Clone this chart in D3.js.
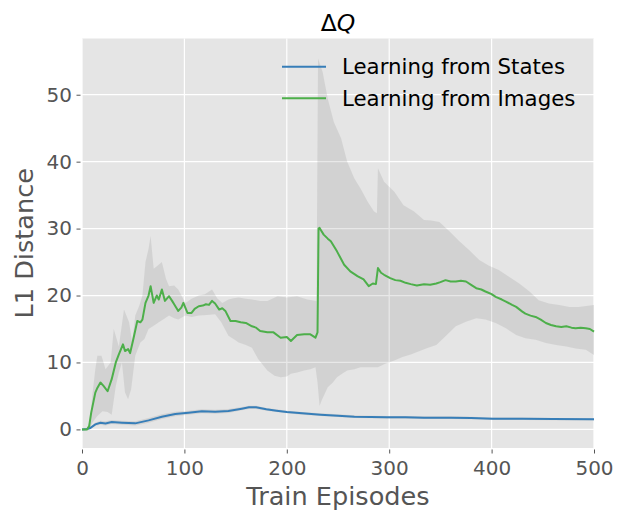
<!DOCTYPE html>
<html>
<head>
<meta charset="utf-8">
<script src="https://cdn.jsdelivr.net/npm/d3@7"></script>
<style>
  body { margin: 0; background: #fff; }
  svg { display: block; font-family: "DejaVu Sans", sans-serif; }
</style>
</head>
<body>
<div id="chart"></div>
<script>
// Learning from Images: mean curve and its shaded band, [episode, value]
const imagesMean = [[0,0],[5,0],[7,0.5],[9,2.5],[11,4],[13,5.5],[15,6.2],[18,7],[21,6.5],[25,5.7],[29,7.5],[33,10],[36,11.2],[40,12.7],[42,11.7],[45,12],[47,11.4],[50,13.4],[54,16.2],[57,16],[59,16.4],[62,18.9],[65,20],[67,21.4],[70,18.9],[73,20],[75,19.4],[78,20.9],[81,19.2],[85,19.9],[88,19.2],[90,18.7],[94,17.7],[97,18.2],[99,18.9],[103,17.4],[107,17.4],[110,18],[114,18.4],[118,18.5],[121,18.7],[124,18.6],[127,19.2],[130,18.8],[134,17.9],[137,18.1],[140,17.7],[145,16.2],[150,16.2],[155,16],[160,15.9],[166,15.4],[170,15.2],[174,14.7],[181,14.5],[187,14.5],[194,13.7],[200,13.8],[204,13.2],[210,14.1],[217,14.2],[223,14.2],[228,13.7],[230,14.5],[231,30],[232,30.1],[236,29.1],[240,28.5],[243,28.1],[249,26.6],[256,24.6],[262,23.6],[269,22.9],[275,22.4],[280,21.4],[284,21.8],[287,21.7],[289,24.1],[292,23.4],[295,23.1],[301,22.6],[306,22.3],[311,22.2],[316,21.9],[321,21.7],[327,21.5],[334,21.7],[340,21.6],[346,21.8],[350,22],[355,22.3],[360,22.1],[365,22.1],[370,22.2],[375,22.1],[380,21.6],[385,21.1],[390,20.9],[394,20.6],[400,20.2],[404,19.8],[410,19.4],[414,19.1],[420,18.6],[424,18.3],[430,17.6],[433,17.3],[438,17],[443,16.8],[448,16.4],[453,15.9],[458,15.6],[463,15.4],[468,15.3],[473,15.4],[478,15.2],[482,15.1],[487,15.2],[492,15.1],[496,15],[500,14.6]];

const imagesHi = [[0,0],[5,0],[8,1.5],[10,5],[13,9],[15,11],[19,11],[23,9],[28,10],[31,15],[36,12.4],[41,17.9],[46,16],[49,13],[52,17],[56,18.5],[59,20],[62,25],[65,27],[67,28.9],[70,24],[74,24.5],[78,25],[82,22.5],[85,21.4],[90,21.5],[94,20.9],[101,18.9],[107,19.5],[114,20],[120,20.2],[127,20.9],[132,19.6],[137,18.9],[143,19.4],[148,19.6],[153,19.7],[160,19.5],[166,19.4],[174,19.2],[181,19.2],[191,19.9],[200,19.7],[210,19.9],[220,19.4],[229,19.2],[230.5,55.4],[235,53.4],[240,49.4],[246,45.9],[253,43.5],[259,40],[266,37.5],[272,36],[279,34],[285,32.6],[288,32.3],[289,39],[295,37],[305,35.5],[314,33.5],[324,32.6],[334,31.3],[341,31.2],[349,31],[358,29.7],[368,28.2],[378,26.8],[388,25.3],[397,24.5],[407,23.8],[417,22.8],[427,21.8],[437,20.6],[446,19.3],[456,18.8],[466,18.6],[476,18.3],[485,18.3],[500,18.6]];

const imagesLo = [[0,0],[5,0],[8,0.3],[10,1],[15,2],[20,2.7],[25,2.6],[29,2.2],[33,6.5],[36,8.5],[39,10],[42,5.5],[45,4.5],[48,6],[52,11],[57,13],[61,13.5],[65,15],[70,15.5],[75,16],[80,16.5],[85,17],[90,16.6],[94,16.4],[101,17],[107,16.8],[114,17],[122,17.1],[130,17.2],[136,16],[143,14],[148,13.5],[153,13],[160,12.6],[166,12.2],[172,10.5],[181,8.8],[188,8],[194,7.8],[200,7.9],[204,8.3],[210,8.5],[217,8.8],[223,9],[228,9.3],[230,7],[232,3.5],[234,4.3],[240,6.3],[245,7],[249,7.8],[254,8.3],[259,8.8],[266,9],[272,9.3],[280,9.3],[289,9.3],[296,9.8],[305,10.3],[313,10.8],[321,11.2],[328,11.6],[336,12.1],[346,12.6],[355,13.9],[365,15.4],[375,16.1],[385,16.6],[394,16.4],[404,15.9],[414,15.1],[424,14.1],[433,13.6],[443,13.4],[453,12.9],[463,12.6],[473,12.4],[482,12.1],[492,11.9],[500,11.1]];

// Learning from States
const statesEp   = [0, 5, 8, 13, 18, 23, 29, 39, 52, 65, 78, 91, 104, 117, 130, 143, 156, 163, 170, 180, 190, 200, 215, 233, 250, 266, 282, 298, 316, 334, 360, 380, 401, 430, 460, 500];
const statesMean = [0, 0.05, 0.2, 0.75, 1.0, 0.9, 1.1, 1.0, 0.9, 1.35, 1.9, 2.3, 2.5, 2.7, 2.65, 2.75, 3.1, 3.3, 3.3, 3.0, 2.8, 2.6, 2.4, 2.2, 2.05, 1.9, 1.85, 1.8, 1.8, 1.75, 1.75, 1.7, 1.6, 1.6, 1.55, 1.5];
const statesLo   = [0, 0, 0.05, 0.5, 0.7, 0.6, 0.8, 0.7, 0.6, 1.0, 1.55, 1.95, 2.2, 2.4, 2.35, 2.45, 2.85, 3.05, 3.05, 2.8, 2.6, 2.4, 2.2, 2.0, 1.85, 1.7, 1.65, 1.6, 1.6, 1.55, 1.55, 1.5, 1.42, 1.42, 1.38, 1.33];
const statesHi   = [0, 0.1, 0.35, 1.0, 1.3, 1.2, 1.4, 1.3, 1.2, 1.7, 2.25, 2.65, 2.8, 3.0, 2.95, 3.05, 3.35, 3.55, 3.55, 3.2, 3.0, 2.8, 2.6, 2.4, 2.25, 2.1, 2.05, 2.0, 2.0, 1.95, 1.95, 1.9, 1.78, 1.78, 1.72, 1.67];

const xTicks = [0, 100, 200, 300, 400, 500];
const yTicks = [0, 10, 20, 30, 40, 50];
const legendLabels = ["Learning from States", "Learning from Images"];
const colors = ["#377eb8", "#4daf4a"];

const W = 626, H = 514;
const margin = { top: 38.5, right: 32, bottom: 66, left: 82 };
const width = W - margin.left - margin.right;
const height = H - margin.top - margin.bottom;

const svg = d3.select("#chart").append("svg")
    .attr("width", W)
    .attr("height", H);

const g = svg.append("g")
    .attr("transform", `translate(${margin.left},${margin.top})`);

const x = d3.scaleLinear().domain([0, 500]).range([0, width]);
const y = d3.scaleLinear().domain([-2.78, 58.4]).range([height, 0]);

// background + grid
g.append("rect")
    .attr("width", width)
    .attr("height", height)
    .attr("fill", "#e5e5e5");

g.append("g")
    .selectAll("line")
    .data(xTicks)
    .enter().append("line")
    .attr("x1", d => x(d)).attr("x2", d => x(d))
    .attr("y1", 0).attr("y2", height)
    .attr("stroke", "#fff").attr("stroke-width", 1.2);

g.append("g")
    .selectAll("line")
    .data(yTicks)
    .enter().append("line")
    .attr("x1", 0).attr("x2", width)
    .attr("y1", d => y(d)).attr("y2", d => y(d))
    .attr("stroke", "#fff").attr("stroke-width", 1.2);

// shaded bands
const edge = d3.line().x(d => x(d[0])).y(d => y(d[1]));
const bandPath = (hi, lo) => edge(hi) + edge(lo.slice().reverse()).replace(/^M/, "L") + "Z";

g.append("path")
    .attr("d", bandPath(imagesHi, imagesLo))
    .attr("fill", "#808080")
    .attr("fill-opacity", 0.18);

const statesRows = statesEp.map((e, i) => ({ e, m: statesMean[i], lo: statesLo[i], hi: statesHi[i] }));

g.append("path")
    .datum(statesRows)
    .attr("fill", "#808080")
    .attr("fill-opacity", 0.18)
    .attr("d", d3.area().x(d => x(d.e)).y0(d => y(d.lo)).y1(d => y(d.hi)));

// lines
g.append("path")
    .datum(statesRows)
    .attr("fill", "none")
    .attr("stroke", colors[0])
    .attr("stroke-width", 2)
    .attr("d", d3.line().x(d => x(d.e)).y(d => y(d.m)));

g.append("path")
    .datum(imagesMean)
    .attr("fill", "none")
    .attr("stroke", colors[1])
    .attr("stroke-width", 2)
    .attr("stroke-linejoin", "round")
    .attr("d", edge);

// axes
const xAxis = g.append("g")
    .attr("transform", `translate(0,${height})`)
    .call(d3.axisBottom(x).tickValues(xTicks).tickSize(4).tickPadding(9));
xAxis.select(".domain").remove();

const yAxis = g.append("g")
    .call(d3.axisLeft(y).tickValues(yTicks).tickSize(4).tickPadding(6));
yAxis.select(".domain").remove();

[xAxis, yAxis].forEach(a => {
    a.selectAll(".tick line").attr("stroke", "#555").attr("stroke-width", 1)
        .attr("transform", a === yAxis ? "translate(-1.5,0)" : "translate(0,1.5)");
    a.selectAll(".tick text")
        .attr("fill", "#555")
        .style("font-size", "20px")
        .style("font-family", "DejaVu Sans, sans-serif");
});

// labels
svg.append("text")
    .attr("x", margin.left + width / 2)
    .attr("y", 505)
    .attr("text-anchor", "middle")
    .attr("fill", "#555")
    .style("font-size", "25.6px")
    .text("Train Episodes");

svg.append("text")
    .attr("transform", `translate(33,${margin.top + height / 2}) rotate(-90)`)
    .attr("text-anchor", "middle")
    .attr("fill", "#555")
    .style("font-size", "25.6px")
    .text("L1 Distance");

const title = svg.append("text")
    .attr("x", margin.left + width / 2)
    .attr("y", 30.5)
    .attr("text-anchor", "middle")
    .attr("fill", "#000")
    .style("font-size", "23.5px");
title.append("tspan").text("Δ");
title.append("tspan").style("font-style", "italic").text("Q");

// legend
const legend = svg.selectAll(".legend")
    .data(legendLabels)
    .enter().append("g")
    .attr("class", "legend")
    .attr("transform", (d, i) => `translate(282,${66.7 + i * 31.6})`);

legend.append("line")
    .attr("x1", 0).attr("x2", 44)
    .attr("stroke", (d, i) => colors[i])
    .attr("stroke-width", 2);

legend.append("text")
    .attr("x", 60)
    .attr("dy", "0.35em")
    .attr("fill", "#000")
    .style("font-size", "21.3px")
    .text(d => d);
</script>
</body>
</html>
